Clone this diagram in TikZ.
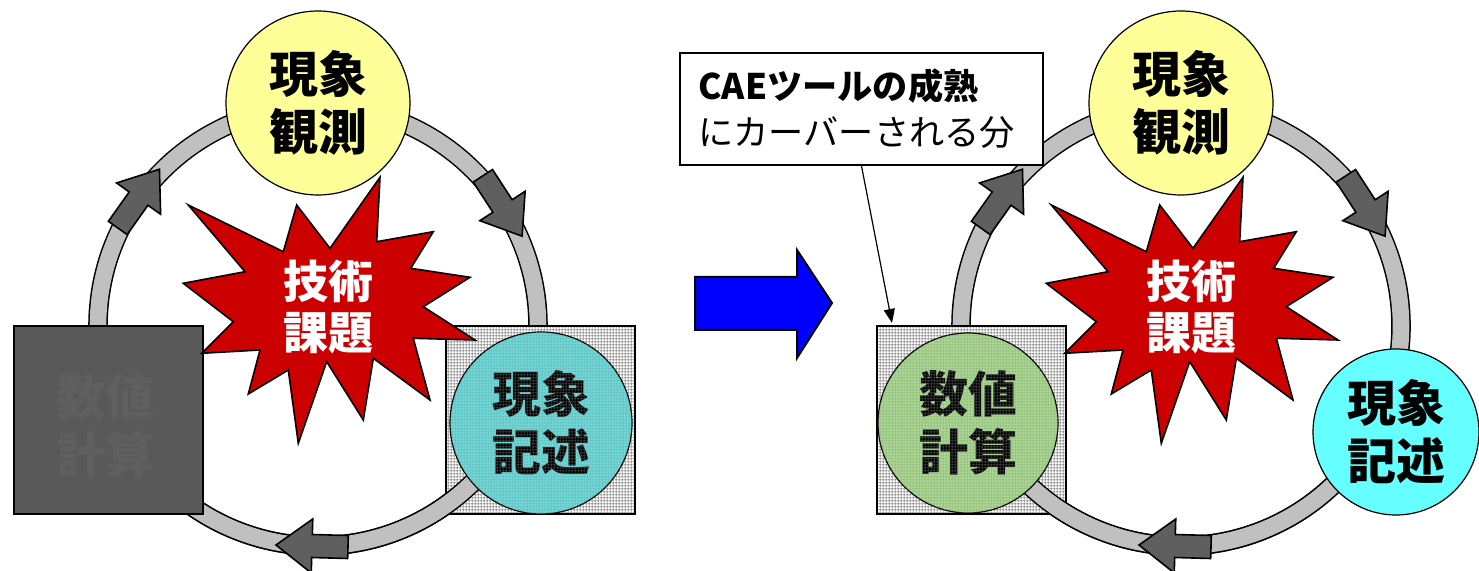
\documentclass[tikz,border=0pt]{standalone}
\usepackage{fontspec}
\setmainfont{Noto Sans CJK JP}
\usetikzlibrary{arrows.meta,patterns.meta}
\definecolor{obsyellow}{HTML}{FFFF99}
\definecolor{cyanc}{HTML}{66FFFF}
\definecolor{tealc}{HTML}{66DDDD}
\definecolor{greenc}{HTML}{A8DC8C}
\definecolor{starred}{HTML}{CC0000}
\definecolor{arrowgray}{HTML}{5F5F5F}
\definecolor{ringgrayc}{HTML}{C0C0C0}
\definecolor{darkboxc}{HTML}{595959}
\definecolor{fainttxtc}{HTML}{5F5F5F}
\definecolor{gridgray}{HTML}{8C8C8C}
\definecolor{bluec}{HTML}{0000FF}
\tikzdeclarepattern{
  name=finegrid,
  type=uncolored,
  bounding box={(0,0) and (1.6pt,1.6pt)},
  tile size={(1.6pt,1.6pt)},
  code={\draw[line width=0.45pt] (0,0.8pt) -- (1.6pt,0.8pt) (0.8pt,0) -- (0.8pt,1.6pt);}
}
\tikzset{
  ringblack/.style={draw=black,line width=9.8pt},
  ringgray/.style={draw=ringgrayc,line width=8.3pt},
  ringarrowsty/.style={fill=arrowgray,draw=black,line width=0.8pt,line join=miter},
  circ/.style={circle,draw=black,line width=0.6pt,inner sep=0pt,align=center,
    font=\fontsize{24.5}{29}\selectfont\bfseries},
  gbox/.style={rectangle,draw=black,line width=1pt,minimum width=94.5pt,minimum height=94pt,
    preaction={fill=white},pattern=finegrid,pattern color=gridgray},
  darkbox/.style={rectangle,draw=black,line width=1pt,fill=darkboxc,minimum width=94.5pt,minimum height=94pt},
  fainttxt/.style={text=fainttxtc,align=center,font=\fontsize{24.5}{29}\selectfont\bfseries},
  starsty/.style={fill=starred,draw=black,line width=0.8pt,line join=miter},
  startxt/.style={text=white,align=center,font=\fontsize{22.5}{25.5}\selectfont\bfseries},
  overlaygrid/.style={pattern=finegrid,pattern color=gridgray,opacity=0.45},
  notebox/.style={rectangle,draw=black,line width=1pt,fill=white,minimum width=181.5pt,
    minimum height=56pt,text width=163pt,inner xsep=9pt,align=left,
    font=\fontsize{17.6}{23}\selectfont},
  bigarrow/.style={fill=bluec,draw=black,line width=1pt,line join=miter}
}
\newcommand\fullring[1]{%
  \draw[ringblack] (#1) circle[radius=110pt];
  \draw[ringgray] (#1) circle[radius=110pt];}
\newcommand\bottomarc[1]{%
  \draw[ringblack] (#1) ++(-25:110pt) arc[start angle=-25,end angle=-155,radius=110pt];
  \draw[ringgray] (#1) ++(-25:110pt) arc[start angle=-25,end angle=-155,radius=110pt];}
\newcommand\ringarrow[3]{%
  \begin{scope}[shift={(#1,#2)},rotate=#3]
    \filldraw[ringarrowsty] (-36,-11.5) -- (0,-11.5) -- (0,-27) -- (36,0) -- (0,27) -- (0,11.5) -- (-36,11.5) -- cycle;
  \end{scope}}
\newcommand\starpoly{%
  \filldraw[starsty] (188.3,205) -- (283.3,251.7) -- (296.7,205) -- (330,248.3) -- (380,177.3)
    -- (376.7,241.7) -- (433.3,231.7) -- (410.7,268.3) -- (470,277.3) -- (423.3,306.7)
    -- (475,340) -- (413.3,338.3) -- (430,400) -- (373.3,358.3) -- (363.3,420)
    -- (326.7,361.7) -- (298.3,443.3) -- (288.3,370) -- (248.3,394) -- (260,350)
    -- (201.7,353.3) -- (233.3,321.7) -- (183.3,283.3) -- (245,271.7) -- cycle;}
\begin{document}
\begin{tikzpicture}[x=0.5pt,y=-0.5pt]
\useasboundingbox (0,0) rectangle (1479,571);
% ===== LEFT CYCLE =====
\coordinate (cL) at (318,326);
\fullring{cL}
\ringarrow{138.6}{198.6}{54.6}
\ringarrow{502.5}{206}{-57}
\node[circ,fill=obsyellow,minimum size=92pt] (obsL) at (318,103) {現象\\観測};
\node[gbox] (boxL) at (540.5,420) {};
\bottomarc{cL}
\ringarrow{312}{546}{178.4}
\node[circ,fill=tealc,minimum size=91pt] (descL) at (541,423) {現象\\記述};
\fill[overlaygrid] (descL.center) circle[radius=45.5pt];
\node[darkbox] (calcL) at (108.5,420) {};
\node[fainttxt] (calcLtxt) at (105,426) {数値\\計算};
\starpoly
\node[startxt] (starL) at (328,307) {技術\\課題};
% ===== RIGHT CYCLE =====
\begin{scope}[shift={(863,0)}]
\coordinate (cR) at (318,326);
\fullring{cR}
\ringarrow{138.6}{198.6}{54.6}
\ringarrow{502.5}{206}{-57}
\node[circ,fill=obsyellow,minimum size=92pt] (obsR) at (318,103) {現象\\観測};
\node[gbox] (boxR) at (108.5,420) {};
\bottomarc{cR}
\ringarrow{312}{546}{178.4}
\node[circ,fill=greenc,minimum size=90pt] (calcR) at (105,423) {数値\\計算};
\fill[overlaygrid] (calcR.center) circle[radius=45pt];
\node[circ,fill=cyanc,minimum size=83pt] (descR) at (533,432) {現象\\記述};
\starpoly
\node[startxt] (starR) at (328,307) {技術\\課題};
\end{scope}
% ===== CALLOUT =====
\node[notebox] (note) at (861.5,109) {{\bfseries CAEツールの成熟}\\にカーバーされる分};
\coordinate (ptr) at (892,323);
\draw[line width=0.6pt,-{Triangle[length=7pt,width=5.5pt]}] (note.south) -- (ptr);
% ===== BLUE ARROW =====
\filldraw[bigarrow] (695,277) -- (797,277) -- (797,250) -- (832,303) -- (797,358) -- (797,330) -- (695,330) -- cycle;
\end{tikzpicture}
\end{document}
